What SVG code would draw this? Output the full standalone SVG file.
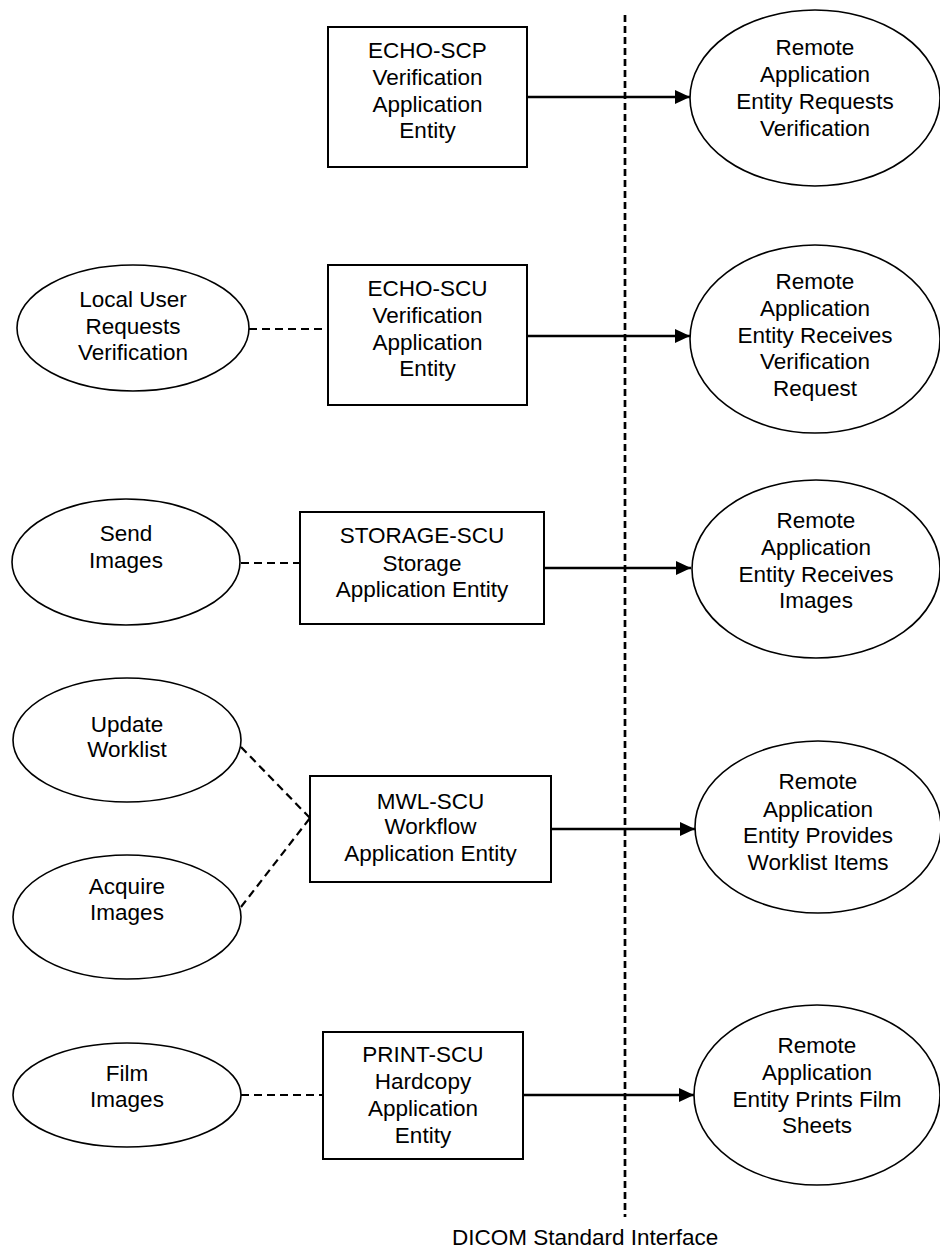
<svg xmlns="http://www.w3.org/2000/svg" width="940" height="1250" viewBox="0 0 940 1250">
<style>
  text { font-family: "Liberation Sans", Arial, sans-serif; font-size: 22.5px; fill: #000; text-anchor: middle; }
  .box { fill: #fff; stroke: #000; stroke-width: 2; }
  .ell { fill: #fff; stroke: #000; stroke-width: 1.6; }
  .arrow { stroke: #000; stroke-width: 2.7; fill: none; marker-end: url(#ah); }
  .dash { stroke: #000; stroke-width: 2.2; stroke-dasharray: 8 5; fill: none; }
  .iface { stroke: #000; stroke-width: 2.7; stroke-dasharray: 7 4; fill: none; }
</style>
<defs>
  <marker id="ah" markerUnits="userSpaceOnUse" markerWidth="16" markerHeight="14" refX="15" refY="7" orient="auto">
    <path d="M0,0 L15,7 L0,14 Z" fill="#000"/>
  </marker>
</defs>
<rect width="940" height="1250" fill="#fff"/>

<g id="connectors">
  <line class="iface" x1="625" y1="15" x2="625" y2="1217"/>
  <line class="arrow" x1="527" y1="97" x2="690" y2="97"/>
  <line class="dash" x1="249" y1="329" x2="328" y2="329"/>
  <line class="arrow" x1="527" y1="336" x2="690" y2="336"/>
  <line class="dash" x1="241" y1="563" x2="300" y2="563"/>
  <line class="arrow" x1="544" y1="568" x2="691" y2="568"/>
  <line class="dash" x1="241" y1="747" x2="310" y2="818"/>
  <line class="dash" x1="241" y1="907" x2="310" y2="818"/>
  <line class="arrow" x1="551" y1="829" x2="695" y2="829"/>
  <line class="dash" x1="241" y1="1095" x2="323" y2="1095"/>
  <line class="arrow" x1="523" y1="1095" x2="694" y2="1095"/>
</g>

<g id="echo-scp">
  <rect class="box" x="328" y="27" width="199" height="140"/>
  <text x="427.5" y="58">ECHO-SCP</text>
  <text x="427.5" y="85">Verification</text>
  <text x="427.5" y="112">Application</text>
  <text x="427.5" y="138">Entity</text>
</g>
<g id="remote-requests-verification">
  <ellipse class="ell" cx="815" cy="98" rx="125" ry="88"/>
  <text x="815" y="55">Remote</text>
  <text x="815" y="82">Application</text>
  <text x="815" y="109">Entity Requests</text>
  <text x="815" y="136">Verification</text>
</g>

<g id="local-user-requests-verification">
  <ellipse class="ell" cx="133" cy="328" rx="116" ry="63"/>
  <text x="133" y="307">Local User</text>
  <text x="133" y="334">Requests</text>
  <text x="133" y="360">Verification</text>
</g>
<g id="echo-scu">
  <rect class="box" x="328" y="265" width="199" height="140"/>
  <text x="427.5" y="296">ECHO-SCU</text>
  <text x="427.5" y="323">Verification</text>
  <text x="427.5" y="350">Application</text>
  <text x="427.5" y="376">Entity</text>
</g>
<g id="remote-receives-verification">
  <ellipse class="ell" cx="815" cy="339" rx="125" ry="94"/>
  <text x="815" y="289">Remote</text>
  <text x="815" y="316">Application</text>
  <text x="815" y="343">Entity Receives</text>
  <text x="815" y="369">Verification</text>
  <text x="815" y="396">Request</text>
</g>

<g id="send-images">
  <ellipse class="ell" cx="126" cy="562" rx="114" ry="63"/>
  <text x="126" y="541">Send</text>
  <text x="126" y="568">Images</text>
</g>
<g id="storage-scu">
  <rect class="box" x="300" y="512" width="244" height="112"/>
  <text x="422" y="543">STORAGE-SCU</text>
  <text x="422" y="571">Storage</text>
  <text x="422" y="597">Application Entity</text>
</g>
<g id="remote-receives-images">
  <ellipse class="ell" cx="816" cy="569" rx="124" ry="89"/>
  <text x="816" y="528">Remote</text>
  <text x="816" y="555">Application</text>
  <text x="816" y="582">Entity Receives</text>
  <text x="816" y="608">Images</text>
</g>

<g id="update-worklist">
  <ellipse class="ell" cx="127" cy="740" rx="114" ry="62"/>
  <text x="127" y="732">Update</text>
  <text x="127" y="757">Worklist</text>
</g>
<g id="acquire-images">
  <ellipse class="ell" cx="127" cy="917" rx="114" ry="62"/>
  <text x="127" y="894">Acquire</text>
  <text x="127" y="920">Images</text>
</g>
<g id="mwl-scu">
  <rect class="box" x="310" y="776" width="241" height="106"/>
  <text x="430.5" y="809">MWL-SCU</text>
  <text x="430.5" y="834">Workflow</text>
  <text x="430.5" y="861">Application Entity</text>
</g>
<g id="remote-provides-worklist">
  <ellipse class="ell" cx="818" cy="827" rx="123" ry="86"/>
  <text x="818" y="789">Remote</text>
  <text x="818" y="817">Application</text>
  <text x="818" y="843">Entity Provides</text>
  <text x="818" y="870">Worklist Items</text>
</g>

<g id="film-images">
  <ellipse class="ell" cx="127" cy="1095" rx="114" ry="52"/>
  <text x="127" y="1081">Film</text>
  <text x="127" y="1107">Images</text>
</g>
<g id="print-scu">
  <rect class="box" x="323" y="1032" width="200" height="127"/>
  <text x="423" y="1062">PRINT-SCU</text>
  <text x="423" y="1089">Hardcopy</text>
  <text x="423" y="1116">Application</text>
  <text x="423" y="1143">Entity</text>
</g>
<g id="remote-prints-film">
  <ellipse class="ell" cx="817" cy="1095" rx="123" ry="90"/>
  <text x="817" y="1053">Remote</text>
  <text x="817" y="1080">Application</text>
  <text x="817" y="1107">Entity Prints Film</text>
  <text x="817" y="1133">Sheets</text>
</g>

<g id="interface-label">
  <text x="452" y="1245" style="text-anchor:start">DICOM Standard Interface</text>
</g>
</svg>
